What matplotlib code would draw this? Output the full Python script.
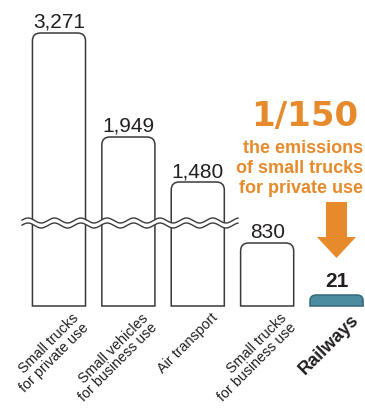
import matplotlib.pyplot as plt
import numpy as np
from matplotlib.path import Path
from matplotlib.patches import PathPatch, Polygon
from matplotlib.transforms import Affine2D, IdentityTransform

categories = ["Small trucks\nfor private use", "Small vehicles\nfor business use",
              "Air transport", "Small trucks\nfor business use", "Railways"]
emissions = [3271, 1949, 1480, 830, 21]
value_labels = ["3,271", "1,949", "1,480", "830", "21"]
highlight = "Railways"
ratio_text = "1/150"
note_lines = ["the emissions", "of small trucks", "for private use"]

# the chart is not drawn to scale (broken axis), so use a piecewise scale
scale_vals = [0, 21, 830, 1480, 1949, 3271, 4000]
scale_px = [0, 11, 63, 124, 169, 273, 330]

W, H = 365, 408
ORANGE = "#e78a2b"
TEAL = "#4b8ca0"
DARK = "#231f20"
plt.rcParams['font.family'] = ['Liberation Sans', 'DejaVu Sans']


def fwd(v):
    return np.interp(v, scale_vals, scale_px)


def inv(p):
    return np.interp(p, scale_px, scale_vals)


fig = plt.figure(figsize=(W / 100, H / 100), dpi=100)
fig.patch.set_facecolor("white")
ax = fig.add_axes([0, 102 / H, 1, 306 / H])
ax.set_yscale("function", functions=(fwd, inv))
ax.set_ylim(0, inv(306))
ax.set_xlim(-0.85, 4.41)
ax.axis("off")

# pixel coordinates, origin top-left, for decorations
px = Affine2D().scale(1 / W, -1 / H).translate(0, 1) + fig.transFigure

x = np.arange(len(emissions))
bars = ax.bar(x, emissions, width=0.765, color="none", edgecolor="none")

for rect, cat in zip(bars, categories):
    rect.set_visible(False)
    (x0, y0), (x1, y1) = ax.transData.transform(
        [(rect.get_x(), 0), (rect.get_x() + rect.get_width(), rect.get_height())])
    r = 8 if cat != highlight else 6
    verts = [(x0, y0), (x0, y1 - r), (x0, y1), (x0 + r, y1), (x1 - r, y1),
             (x1, y1), (x1, y1 - r), (x1, y0), (x0, y0)]
    codes = [Path.MOVETO, Path.LINETO, Path.CURVE3, Path.CURVE3, Path.LINETO,
             Path.CURVE3, Path.CURVE3, Path.LINETO, Path.CLOSEPOLY]
    if cat == highlight:
        fc, ec = TEAL, "#34687a"
    else:
        fc, ec = "white", "#3a3a3a"
    ax.add_patch(PathPatch(Path(verts, codes), facecolor=fc, edgecolor=ec,
                           lw=1.1, transform=IdentityTransform(), clip_on=False, zorder=2))

# value labels
for xi, v, lab, cat in zip(x, emissions, value_labels, categories):
    if cat == highlight:
        ax.annotate(lab, (xi, v), xytext=(0, 8), textcoords="offset pixels",
                    ha="center", va="baseline", fontsize=15, fontweight="bold", color=DARK)
    else:
        ax.annotate(lab, (xi, v), xytext=(0, 5), textcoords="offset pixels",
                    ha="center", va="baseline", fontsize=15, color=DARK)

# category labels
for xi, cat in zip(x, categories):
    bold = cat == highlight
    ax.annotate(cat, (xi + 0.765 / 2, 0), xytext=(-13 if bold else -14, -5),
                textcoords="offset pixels",
                ha="right", va="top", rotation=45, rotation_mode="anchor",
                fontsize=13 if bold else 10.3, color=DARK, linespacing=0.95,
                fontweight="bold" if bold else "normal")

# axis break
xs = np.linspace(22, 238, 400)
upper = 220.5 - 2.5 * np.cos(2 * np.pi * (xs - 28) / 26.4)
lower = upper + 5
band = np.concatenate([np.column_stack([xs, upper]), np.column_stack([xs[::-1], lower[::-1]])])
fig.add_artist(Polygon(band, closed=True, facecolor="white", edgecolor="none",
                       transform=px, zorder=3))
for yy in (upper, lower):
    fig.add_artist(plt.Line2D(xs, yy, color="#3a3a3a", lw=1.0, transform=px, zorder=4))

# annotation
fig.text(358, 126, ratio_text, transform=px, ha="right", va="baseline",
         fontsize=24.5, fontweight="bold", color=ORANGE, family="DejaVu Sans")
for i, line in enumerate(note_lines):
    fig.text(363, 153 + 20 * i, line, transform=px, ha="right", va="baseline",
             fontsize=13, fontweight="bold", color=ORANGE)

arrow = [(326, 202), (347, 202), (347, 237), (356, 237), (336.5, 258),
         (317, 237), (326, 237)]
fig.add_artist(Polygon(arrow, closed=True, facecolor=ORANGE, edgecolor="none",
                       transform=px, zorder=3))

fig.savefig("out.png", dpi=100, facecolor="white")
